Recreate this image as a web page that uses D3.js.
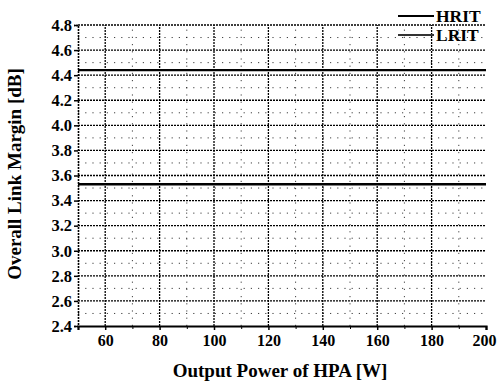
<!DOCTYPE html>
<html><head><meta charset="utf-8">
<script src="https://cdn.jsdelivr.net/npm/d3@7"></script>
<style>body{margin:0;background:#fff}svg{display:block}text{font-family:"Liberation Serif","Times New Roman",serif;font-weight:bold;fill:#000}</style>
</head><body>
<script>
const powerW = [50, 60, 70, 80, 90, 100, 110, 120, 130, 140, 150, 160, 170, 180, 190, 200];
const hritMargin = [3.53, 3.53, 3.53, 3.53, 3.53, 3.53, 3.53, 3.53, 3.53, 3.53, 3.53, 3.53, 3.53, 3.53, 3.53, 3.53];
const lritMargin = [4.44, 4.44, 4.44, 4.44, 4.44, 4.44, 4.44, 4.44, 4.44, 4.44, 4.44, 4.44, 4.44, 4.44, 4.44, 4.44];
const seriesNames = ["HRIT", "LRIT"];
const xTicks = [60, 80, 100, 120, 140, 160, 180, 200];
const yTicks = [2.4, 2.6, 2.8, 3.0, 3.2, 3.4, 3.6, 3.8, 4.0, 4.2, 4.4, 4.6, 4.8];
const xMinor = [70, 90, 110, 130, 150, 170, 190];
const yMinor = [2.5, 2.7, 2.9, 3.1, 3.3, 3.5, 3.7, 3.9, 4.1, 4.3, 4.5, 4.7];

const W = 497, H = 383;
const svg = d3.select("body").append("svg").attr("width", W).attr("height", H);
const x = d3.scaleLinear().domain([50, 200]).range([78, 486]);
const y = d3.scaleLinear().domain([2.4, 4.8]).range([326, 25]);

const g = svg.append("g");
// minor grid
g.selectAll(".ymin").data(yMinor).join("line")
  .attr("x1", x(50)).attr("x2", x(200)).attr("y1", d => y(d)).attr("y2", d => y(d))
  .attr("stroke", "#000").attr("stroke-width", 1).attr("stroke-dasharray", "1.2,6").attr("opacity", 0.75);
g.selectAll(".xmin").data(xMinor).join("line")
  .attr("y1", y(2.4)).attr("y2", y(4.8)).attr("x1", d => x(d)).attr("x2", d => x(d))
  .attr("stroke", "#000").attr("stroke-width", 1).attr("stroke-dasharray", "1.2,6").attr("opacity", 0.75);
// major grid
g.selectAll(".ymaj").data(yTicks.filter(d => d > 2.4)).join("line")
  .attr("x1", x(50)).attr("x2", x(200)).attr("y1", d => y(d)).attr("y2", d => y(d))
  .attr("stroke", "#000").attr("stroke-width", 1.3).attr("stroke-dasharray", "2,1");
g.selectAll(".xmaj").data(xTicks.filter(d => d < 200)).join("line")
  .attr("y1", y(2.4)).attr("y2", y(4.8)).attr("x1", d => x(d)).attr("x2", d => x(d))
  .attr("stroke", "#000").attr("stroke-width", 1.3).attr("stroke-dasharray", "2,1");

// axes
const xAxis = d3.axisBottom(x).tickValues(xTicks).tickSize(4).tickPadding(5).tickFormat(d3.format("d"));
const gx = svg.append("g").attr("transform", `translate(0,${y(2.4)})`).call(xAxis);
gx.select(".domain").attr("stroke-width", 2.2);
gx.selectAll(".tick line").attr("stroke-width", 1.5);
gx.selectAll("text").attr("font-size", 16).style("font-family", "'Liberation Serif',serif").style("font-weight", "bold");
gx.selectAll(".tick").filter(d => d === 200).select("text").attr("text-anchor", "end").attr("x", 10);
svg.append("g").attr("transform", `translate(0,${y(2.4)})`)
  .call(d3.axisBottom(x).tickValues(xMinor).tickSize(3).tickFormat(""))
  .call(s => s.select(".domain").remove());

const yAxis = d3.axisLeft(y).tickValues(yTicks).tickSize(4).tickPadding(2).tickFormat(d3.format(".1f"));
const gy = svg.append("g").attr("transform", `translate(${x(50)},0)`).call(yAxis);
gy.select(".domain").attr("stroke-width", 1.6).attr("stroke-dasharray", "2,1");
gy.selectAll(".tick line").attr("stroke-width", 1.5);
gy.selectAll("text").attr("font-size", 16.5).style("font-family", "'Liberation Serif',serif").style("font-weight", "bold");

// data lines
const line = d3.line().x((d, i) => x(powerW[i])).y(d => y(d));
svg.append("path").datum(hritMargin).attr("d", line).attr("fill", "none").attr("stroke", "#000").attr("stroke-width", 2.6);
svg.append("path").datum(lritMargin).attr("d", line).attr("fill", "none").attr("stroke", "#000").attr("stroke-width", 2.2);

// legend
const leg = svg.append("g");
seriesNames.forEach((n, i) => {
  const ly = 16 + i * 19;
  leg.append("line").attr("x1", 398).attr("x2", 434).attr("y1", ly).attr("y2", ly)
    .attr("stroke", i === 0 ? "#000" : "#333").attr("stroke-width", i === 0 ? 2 : 2.2);
  leg.append("text").attr("x", 436).attr("y", ly + 6).attr("font-size", 17.5).text(n);
});

// axis titles
svg.append("text").attr("x", 280).attr("y", 377).attr("text-anchor", "middle").attr("font-size", 19)
  .text("Output Power of HPA [W]");
svg.append("text").attr("transform", "translate(21,174) rotate(-90)").attr("text-anchor", "middle").attr("font-size", 19)
  .text("Overall Link Margin [dB]");
</script>
</body></html>
